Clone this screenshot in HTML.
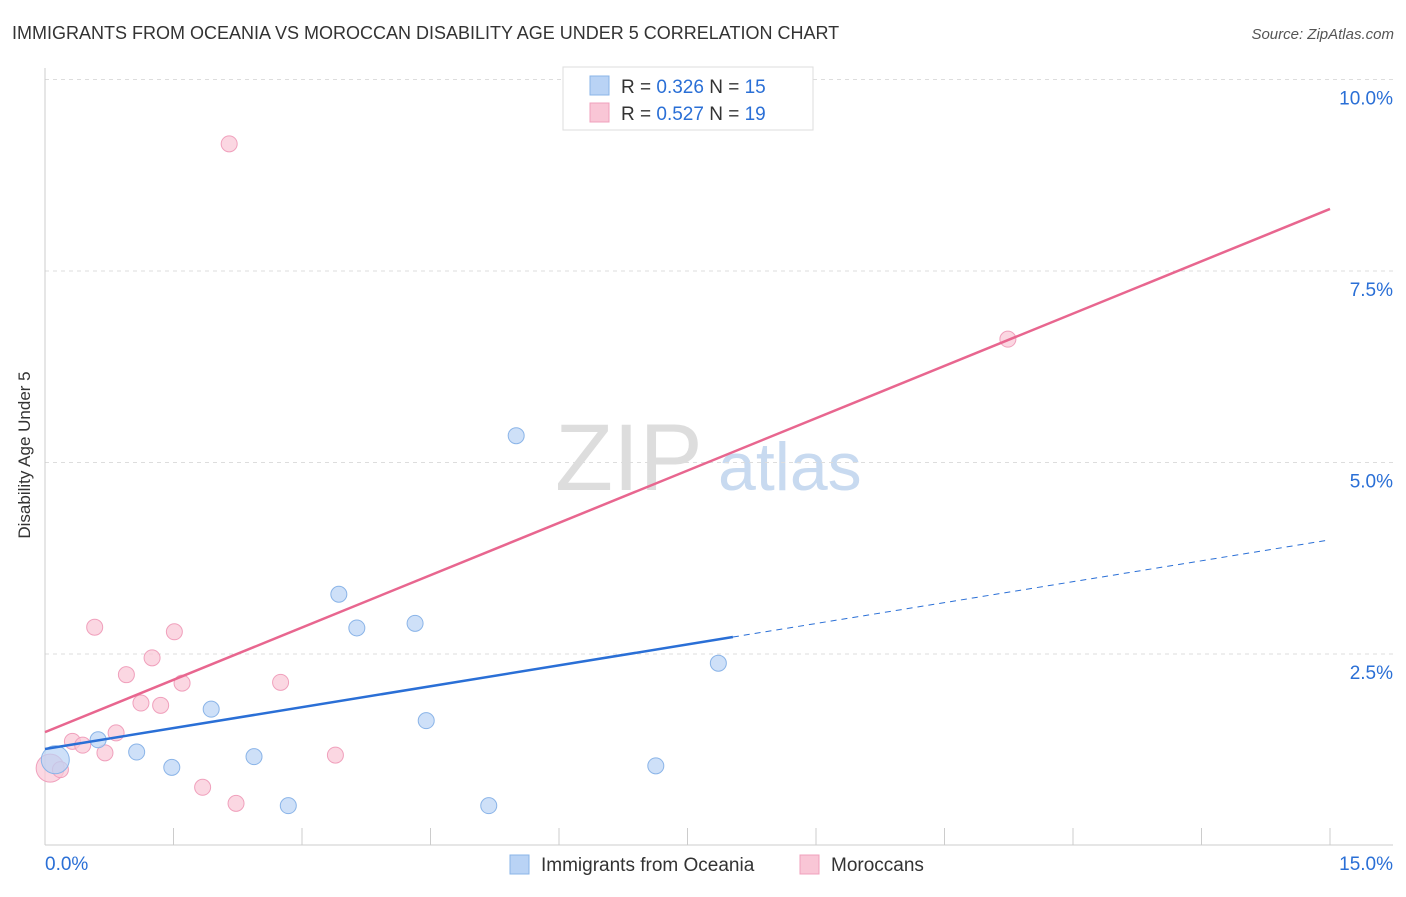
<!DOCTYPE html>
<html><head><meta charset="utf-8"><style>
body{margin:0;background:#fff;font-family:"Liberation Sans",sans-serif;}
svg text{font-family:"Liberation Sans",sans-serif;}
</style></head><body>
<svg id="chart" width="1406" height="892">
<text x="12" y="39" font-size="18" fill="#333">IMMIGRANTS FROM OCEANIA VS MOROCCAN DISABILITY AGE UNDER 5 CORRELATION CHART</text>
<text x="1394" y="39" font-size="15" fill="#555" font-style="italic" text-anchor="end">Source: ZipAtlas.com</text>
<text x="30" y="455" font-size="17" fill="#333" text-anchor="middle" transform="rotate(-90 30 455)">Disability Age Under 5</text>
<text x="555" y="490" font-size="95" fill="#ddd" font-family="Liberation Serif">ZIP</text>
<text x="718" y="490" font-size="68" fill="#c8daf0">atlas</text>
<g id="grid"></g><g id="marks"></g>
<g>
<rect x="563" y="67" width="250" height="63" fill="#fff" stroke="#ddd"/>
<rect x="590" y="76" width="19" height="19" fill="#b9d3f5" stroke="#8ab4e8"/>
<text x="621" y="93" font-size="19" fill="#333">R = <tspan fill="#2a6fd6">0.326</tspan>   N = <tspan fill="#2a6fd6">15</tspan></text>
<rect x="590" y="103" width="19" height="19" fill="#f9c6d6" stroke="#f0a0bc"/>
<text x="621" y="120" font-size="19" fill="#333">R = <tspan fill="#2a6fd6">0.527</tspan>   N = <tspan fill="#2a6fd6">19</tspan></text>
</g>
<g>
<rect x="510" y="855" width="19" height="19" fill="#b9d3f5" stroke="#8ab4e8"/>
<text x="541" y="871" font-size="19" fill="#333">Immigrants from Oceania</text>
<rect x="800" y="855" width="19" height="19" fill="#f9c6d6" stroke="#f0a0bc"/>
<text x="831" y="871" font-size="19" fill="#333">Moroccans</text>
</g>
</svg>
<script>
const blueX=[0.12,0.62,1.07,1.48,1.94,2.44,2.84,3.43,3.64,4.32,4.45,5.18,5.50,7.13,7.86];
const blueY=[1.12,1.38,1.22,1.02,1.78,1.16,0.52,3.28,2.84,2.90,1.63,0.52,5.35,1.04,2.38];
const pinkX=[0.06,0.18,0.32,0.44,0.58,0.70,0.83,0.95,1.12,1.25,1.35,1.51,1.60,1.84,2.15,2.23,2.75,3.39,11.24];
const pinkY=[1.01,0.99,1.36,1.31,2.85,1.21,1.47,2.23,1.86,2.45,1.83,2.79,2.12,0.76,9.16,0.55,2.13,1.18,6.61];
const blueTrend=[1.26,3.99];
const pinkTrend=[1.48,8.31];
const blueSolidEnd=8.03;
const yTicks=[2.5,5.0,7.5,10.0];
const yTickLabels=["2.5%","5.0%","7.5%","10.0%"];
const xTicks=[1.5,3,4.5,6,7.5,9,10.5,12,13.5,15];
const NS="http://www.w3.org/2000/svg";
const sx=v=>45+v*1285/15, sy=v=>845.5-v*76.6;
function mk(tag,attrs,parent){const e=document.createElementNS(NS,tag);for(const k in attrs)e.setAttribute(k,attrs[k]);parent.appendChild(e);return e;}
const g=document.getElementById('grid'),m=document.getElementById('marks');
yTicks.forEach((t,i)=>{
 const l=mk('line',{x1:45,x2:1393,y1:sy(t),y2:sy(t),stroke:'#ddd','stroke-dasharray':'4,4'},g);
 
 
 const tx=mk('text',{x:1393,y:sy(t)+25,'font-size':19,fill:'#2a6fd6','text-anchor':'end'},g);
 tx.textContent=yTickLabels[i];
 
 
});
let ax=mk('line',{x1:45,x2:45,y1:68,y2:845,stroke:'#ccc'},g);


ax=mk('line',{x1:45,x2:1393,y1:845,y2:845,stroke:'#ccc'},g);


xTicks.forEach(t=>{const l=mk('line',{x1:sx(t),x2:sx(t),y1:828,y2:845,stroke:'#ccc'},g);
 
 });
let t0=mk('text',{x:45,y:870,'font-size':19,fill:'#2a6fd6'},g);t0.textContent='0.0%';


t0=mk('text',{x:1393,y:870,'font-size':19,fill:'#2a6fd6','text-anchor':'end'},g);t0.textContent='15.0%';


function pts(X,Y,fill,stroke,name){X.forEach((x,i)=>{const c=mk('circle',{cx:sx(x),cy:sy(Y[i]),r:i===0?14:8,fill:fill,'fill-opacity':0.7,stroke:stroke},m);
 
 });}
pts(pinkX,pinkY,'#f9c6d6','#f0a0bc','moroccan-point');
pts(blueX,blueY,'#b9d3f5','#8ab4e8','oceania-point');
const bAt=x=>blueTrend[0]+(blueTrend[1]-blueTrend[0])*x/15;
let l=mk('line',{x1:sx(0),y1:sy(blueTrend[0]),x2:sx(blueSolidEnd),y2:sy(bAt(blueSolidEnd)),stroke:'#2a6fd6','stroke-width':2.5},m);


l=mk('line',{x1:sx(blueSolidEnd),y1:sy(bAt(blueSolidEnd)),x2:sx(15),y2:sy(blueTrend[1]),stroke:'#2a6fd6','stroke-width':1,'stroke-dasharray':'6,5'},m);


l=mk('line',{x1:sx(0),y1:sy(pinkTrend[0]),x2:sx(15),y2:sy(pinkTrend[1]),stroke:'#e8668f','stroke-width':2.5},m);


</script>
</body></html>
